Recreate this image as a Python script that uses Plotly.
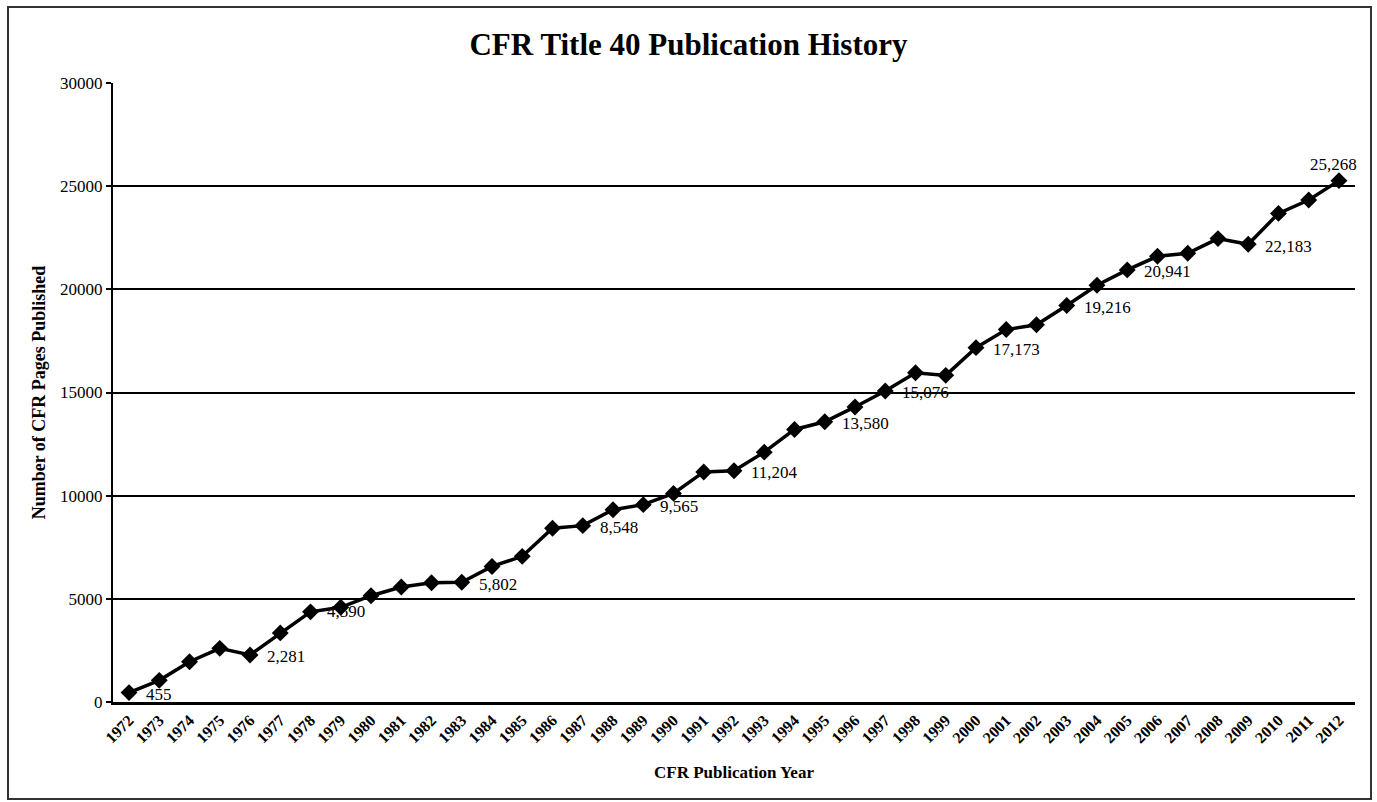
import plotly.graph_objects as go

years = list(range(1972, 2013))
pages = [455, 1050, 1950, 2600, 2281, 3350, 4370, 4590, 5150, 5570,
         5780, 5802, 6570, 7060, 8420, 8548, 9320, 9565, 10110, 11150,
         11204, 12110, 13210, 13580, 14300, 15076, 15960, 15830, 17173, 18050,
         18280, 19216, 20200, 20941, 21600, 21750, 22460, 22183, 23680, 24330,
         25268]

label_years = [1972, 1976, 1979, 1983, 1987, 1989, 1992, 1995, 1997, 2000,
               2003, 2005, 2009, 2012]
label_texts = ["455", "2,281", "4,590", "5,802", "8,548", "9,565", "11,204",
               "13,580", "15,076", "17,173", "19,216", "20,941", "22,183", "25,268"]

title_text = "CFR Title 40 Publication History"
x_title = "CFR Publication Year"
y_title = "Number of CFR Pages Published"
y_ticks = [0, 5000, 10000, 15000, 20000, 25000, 30000]

SERIF = "Liberation Serif, Times New Roman, serif"

fig = go.Figure()
fig.add_trace(go.Scatter(
    x=years, y=pages, mode="lines+markers",
    line=dict(color="black", width=3.5),
    marker=dict(symbol="diamond", size=13, color="black"),
    showlegend=False, hoverinfo="x+y",
))

annotations = []
for yr, txt in zip(label_years, label_texts):
    val = pages[years.index(yr)]
    a = dict(x=yr, y=val, text=txt, showarrow=False, xref="x", yref="y",
             font=dict(family=SERIF, size=17, color="black"),
             xanchor="left", yanchor="middle", xshift=15, yshift=-2)
    if yr == 1979:
        a.update(xanchor="center", xshift=5, yshift=-4)
    if yr == 2012:
        a.update(xanchor="center", yanchor="bottom", xshift=-5, yshift=5)
    annotations.append(a)
fig.update_layout(annotations=annotations)

fig.update_layout(
    width=1377, height=802,
    margin=dict(l=113, r=22, t=83, b=100),
    paper_bgcolor="white", plot_bgcolor="white",
    font=dict(family=SERIF, color="black"),
    title=dict(text="<b>" + title_text + "</b>", x=0.5, xref="container", xanchor="center",
               y=1 - 44 / 802, yanchor="middle", yref="container",
               font=dict(family=SERIF, size=31, color="black")),
)

fig.update_xaxes(
    range=[1971.47, 2012.53], tickmode="array", tickvals=years,
    ticktext=["<b>%d</b>" % y for y in years],
    tickangle=-45, tickfont=dict(family=SERIF, size=16, color="black"),
    showgrid=False, zeroline=False, showline=True, linecolor="black", linewidth=2.5,
    ticks="",
    title=dict(text="<b>" + x_title + "</b>", font=dict(family=SERIF, size=17, color="black"),
               standoff=21),
)
fig.update_yaxes(
    range=[0, 30000], tickmode="array", tickvals=y_ticks,
    ticktext=[str(v) for v in y_ticks],
    tickfont=dict(family=SERIF, size=17, color="black"),
    showgrid=True, gridcolor="black", gridwidth=1.6,
    zeroline=False, showline=True, linecolor="black", linewidth=2,
    ticks="outside", ticklen=5, tickcolor="black", tickwidth=1.5,
    title=dict(text="<b>" + y_title + "</b>", font=dict(family=SERIF, size=18, color="black"),
               standoff=10),
)

# outer frame around the whole graphic
fig.add_shape(type="rect", xref="paper", yref="paper",
              x0=(8 - 113) / 1242, x1=(1371 - 113) / 1242,
              y0=(702 - 799) / 619, y1=(702 - 7) / 619,
              line=dict(color="#333333", width=2), layer="below")

fig.write_html("out.html", config={"displayModeBar": False},
               post_script="document.body.style.margin='0';")
